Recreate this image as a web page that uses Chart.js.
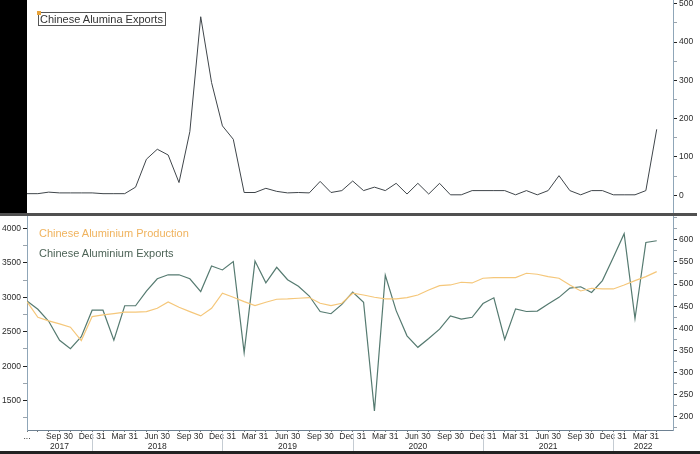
<!DOCTYPE html>
<html>
<head>
<meta charset="utf-8">
<script src="https://cdn.jsdelivr.net/npm/chart.js@4.4.1/dist/chart.umd.min.js"></script>
<style>
  body { margin: 0; background: #fff; width: 700px; height: 454px; overflow: hidden; position: relative; font-family: "Liberation Sans", Arial, sans-serif; }
  canvas { position: absolute; left: 0; }
  #topChart { top: 0; }
  #bottomChart { top: 216px; }
  #leftBand { position: absolute; left: 0; top: 0; width: 27px; height: 216px; background: #000; }
  #separator { position: absolute; left: 0; top: 213px; width: 697px; height: 3px; background: #505050; }
  #footer { position: absolute; left: 0; top: 451px; width: 700px; height: 3px; background: #222; }
  .legend { position: absolute; font-size: 11px; line-height: 13px; white-space: nowrap; }
  #aluminaLegend { left: 38px; top: 12px; height: 12px; line-height: 12px; padding: 0 2px 0 1px; border: 1px solid #555; color: #333; }
  #aluminaMark { position: absolute; left: 37px; top: 11px; width: 4px; height: 4px; background: #e8a33a; }
  #prodLegend { left: 39px; top: 227px; color: #f0b35e; }
  #expLegend { left: 39px; top: 247px; color: #4d6357; }
</style>
</head>
<body>
<div id="leftBand"></div>
<canvas id="topChart" width="700" height="213"></canvas>
<div id="separator"></div>
<canvas id="bottomChart" width="700" height="235"></canvas>
<div id="footer"></div>
<div class="legend" id="aluminaLegend">Chinese Alumina Exports</div>
<div id="aluminaMark"></div>
<div class="legend" id="prodLegend">Chinese Aluminium Production</div>
<div class="legend" id="expLegend">Chinese Aluminium Exports</div>
<script>
// Monthly data, Jun 2017 .. Apr 2022
const months = [
  "2017-06", "2017-07", "2017-08", "2017-09", "2017-10", "2017-11", "2017-12",
  "2018-01", "2018-02", "2018-03", "2018-04", "2018-05", "2018-06", "2018-07", "2018-08", "2018-09", "2018-10", "2018-11", "2018-12",
  "2019-01", "2019-02", "2019-03", "2019-04", "2019-05", "2019-06", "2019-07", "2019-08", "2019-09", "2019-10", "2019-11", "2019-12",
  "2020-01", "2020-02", "2020-03", "2020-04", "2020-05", "2020-06", "2020-07", "2020-08", "2020-09", "2020-10", "2020-11", "2020-12",
  "2021-01", "2021-02", "2021-03", "2021-04", "2021-05", "2021-06", "2021-07", "2021-08", "2021-09", "2021-10", "2021-11", "2021-12",
  "2022-01", "2022-02", "2022-03", "2022-04"
];

// Chinese Alumina Exports (top panel)
const aluminaExports = [
  4, 4, 8, 6, 6, 6, 6, 4, 4, 4,
  21, 94, 120, 105, 33, 166, 466, 294, 181, 146,
  7, 7, 18, 10, 6, 7, 6, 36, 7, 12,
  37, 12, 21, 12, 31, 3, 31, 3, 31, 1,
  1, 12, 12, 12, 12, 1, 12, 1, 12, 51,
  12, 1, 12, 12, 1, 1, 1, 12, 172
];

// Chinese Aluminium Production (left axis)
const aluminiumProduction = [
  2936, 2710, 2657, 2613, 2565, 2371, 2720, 2743, 2763, 2783,
  2783, 2792, 2840, 2932, 2855, 2792, 2729, 2840, 3058, 3000,
  2936, 2878, 2927, 2971, 2976, 2985, 2995, 2913, 2878, 2913,
  3058, 3033, 3000, 2976, 2976, 2995, 3033, 3106, 3168, 3178,
  3217, 3207, 3275, 3284, 3284, 3284, 3348, 3333, 3299, 3275,
  3178, 3091, 3130, 3120, 3120, 3178, 3241, 3299, 3371
];

// Chinese Aluminium Exports (right axis)
const aluminiumExports = [
  462, 443, 416, 373, 354, 381, 441, 441, 373, 451,
  451, 484, 512, 521, 521, 512, 483, 541, 532, 551,
  345, 552, 503, 538, 510, 495, 473, 438, 433, 454,
  482, 459, 213, 520, 440, 383, 357, 377, 398, 428,
  421, 425, 456, 469, 375, 444, 438, 439, 455, 470,
  491, 494, 481, 508, 560, 614, 422, 594, 598
];

// Axis ticks (all tick marks) and the labelled ones
const aluminaTicks = [0, 50, 100, 150, 200, 250, 300, 350, 400, 450, 500];
const aluminaLabels = [0, 100, 200, 300, 400, 500];
const productionTicks = [1250, 1500, 1750, 2000, 2250, 2500, 2750, 3000, 3250, 3500, 3750, 4000];
const productionLabels = [1500, 2000, 2500, 3000, 3500, 4000];
const exportTicks = [175, 200, 225, 250, 275, 300, 325, 350, 375, 400, 425, 450, 475, 500, 525, 550, 575, 600, 625, 650];
const exportLabels = [200, 250, 300, 350, 400, 450, 500, 550, 600];
const quarterLabels = { "03": "Mar 31", "06": "Jun 30", "09": "Sep 30", "12": "Dec 31" };
const years = ["2017", "2018", "2019", "2020", "2021", "2022"];

const FONT = "'Liberation Sans', Arial, sans-serif";
const TICK_SIZE = 8.5;
const xMax = 59.5;

function toPoints(values) {
  return values.map((v, i) => ({ x: i, y: v }));
}

function monthTick(value) {
  const m = months[value];
  if (!m) return "";
  if (value === 0) return "...";
  return quarterLabels[m.slice(5)] || "";
}

function valueAxis(position, min, max, ticks, labels, width) {
  return {
    position: position,
    min: min,
    max: max,
    afterBuildTicks: (s) => { s.ticks = ticks.map((v) => ({ value: v })); },
    ticks: {
      autoSkip: false,
      color: "#2b2b2b",
      font: { family: FONT, size: TICK_SIZE },
      padding: 2,
      callback: (v) => (labels.includes(v) ? v : ""),
    },
    grid: {
      drawOnChartArea: false,
      tickLength: 4,
      tickColor: (ctx) => (ctx.tick && labels.includes(ctx.tick.value) ? "#222" : "#9aa4ad"),
    },
    border: { color: "#8fa6b8", width: 1 },
    afterFit: (s) => { s.width = width; s.paddingTop = 0; s.paddingBottom = 0; },
  };
}

// Top chart: alumina exports
new Chart(document.getElementById("topChart"), {
  type: "line",
  data: {
    datasets: [{
      data: toPoints(aluminaExports),
      borderColor: "#3f454a",
      borderWidth: 1,
      pointRadius: 0,
      tension: 0,
    }],
  },
  options: {
    responsive: false,
    animation: false,
    layout: { padding: { left: 27, right: 0, top: 0, bottom: 0 } },
    plugins: { legend: { display: false }, tooltip: { enabled: false } },
    scales: {
      x: { type: "linear", min: 0, max: xMax, display: false },
      y: valueAxis("right", -46.5, 509.7, aluminaTicks, aluminaLabels, 27),
    },
  },
});

// Year labels and separators under the month ticks
const yearPlugin = {
  id: "yearRow",
  afterDraw(chart) {
    const { ctx, chartArea, scales } = chart;
    const x = scales.x;
    const decIdx = months.map((m, i) => (m.endsWith("-12") ? i : -1)).filter((i) => i >= 0);
    const seps = decIdx.map((i) => x.getPixelForValue(i));
    const bounds = [chartArea.left, ...seps, chartArea.right];
    ctx.save();
    ctx.strokeStyle = "#c5ccd3";
    ctx.lineWidth = 1;
    seps.forEach((px) => {
      ctx.beginPath();
      ctx.moveTo(Math.round(px) + 0.5, chartArea.bottom + 3);
      ctx.lineTo(Math.round(px) + 0.5, chart.height);
      ctx.stroke();
    });
    ctx.fillStyle = "#2b2b2b";
    ctx.font = TICK_SIZE + "px " + FONT;
    ctx.textAlign = "center";
    ctx.textBaseline = "middle";
    years.forEach((y, k) => {
      ctx.fillText(y, (bounds[k] + bounds[k + 1]) / 2, chartArea.bottom + 16.7);
    });
    ctx.restore();
  },
};

// Bottom chart: aluminium production and exports
new Chart(document.getElementById("bottomChart"), {
  type: "line",
  data: {
    datasets: [
      {
        label: "Chinese Aluminium Production",
        data: toPoints(aluminiumProduction),
        yAxisID: "yL",
        borderColor: "#f5c77a",
        borderWidth: 1.2,
        pointRadius: 0,
        tension: 0,
      },
      {
        label: "Chinese Aluminium Exports",
        data: toPoints(aluminiumExports),
        yAxisID: "yR",
        borderColor: "#557a70",
        borderWidth: 1.2,
        pointRadius: 0,
        tension: 0,
      },
    ],
  },
  options: {
    responsive: false,
    animation: false,
    layout: { padding: 0 },
    plugins: { legend: { display: false }, tooltip: { enabled: false } },
    scales: {
      x: {
        type: "linear",
        min: 0,
        max: xMax,
        afterBuildTicks: (s) => { s.ticks = months.map((m, i) => ({ value: i })); },
        ticks: {
          autoSkip: false,
          maxRotation: 0,
          padding: 0,
          color: "#2b2b2b",
          font: { family: FONT, size: TICK_SIZE },
          callback: (v) => monthTick(v),
        },
        grid: { drawOnChartArea: false, tickLength: 2, tickColor: "#777" },
        border: { color: "#6e8192", width: 1 },
        afterFit: (s) => { s.height = 21; s.paddingLeft = 0; s.paddingRight = 0; },
      },
      yL: valueAxis("left", 1075, 4178, productionTicks, productionLabels, 27),
      yR: valueAxis("right", 170, 654, exportTicks, exportLabels, 27),
    },
  },
  plugins: [yearPlugin],
});
</script>
</body>
</html>
